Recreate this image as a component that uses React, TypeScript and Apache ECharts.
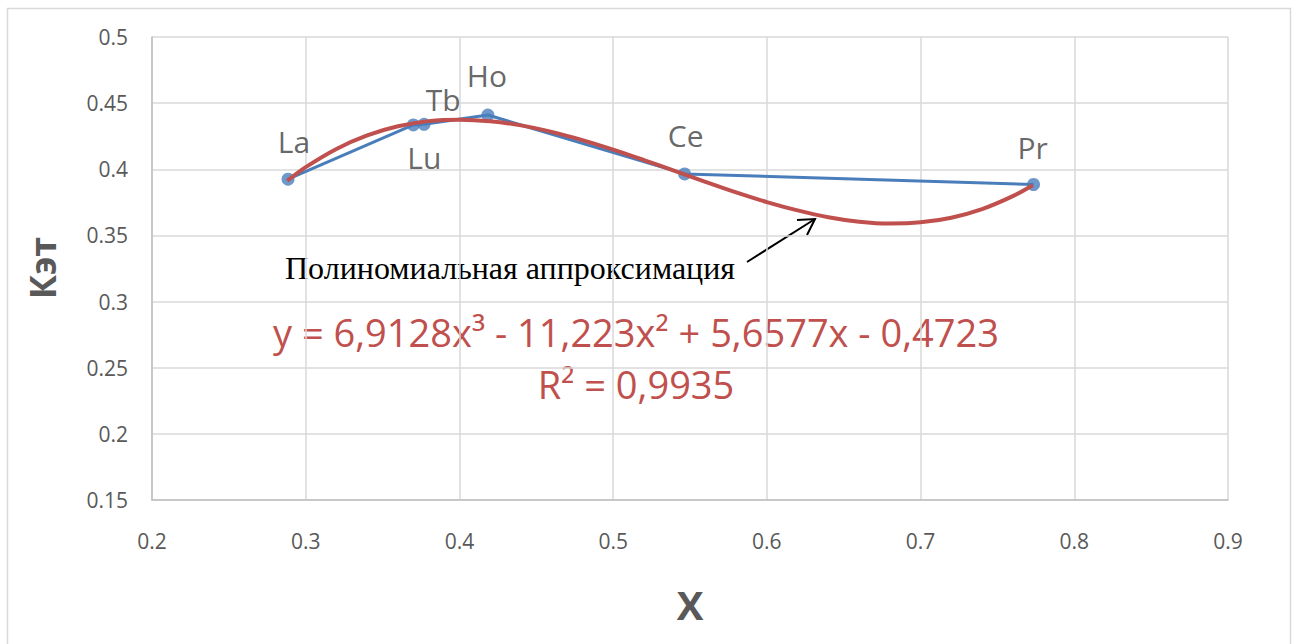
import React, { useEffect, useRef } from "react";
import * as echarts from "echarts";

const pointNames = ["La", "Lu", "Tb", "Ho", "Ce", "Pr"];
const pointX = [0.2885, 0.370, 0.377, 0.4185, 0.5465, 0.7735];
const pointY = [0.3925, 0.4335, 0.434, 0.441, 0.3965, 0.3885];

const trendX = [0.288, 0.30, 0.32, 0.34, 0.36, 0.38, 0.40, 0.42, 0.44, 0.46, 0.48, 0.50, 0.52, 0.54, 0.56, 0.58, 0.60, 0.62, 0.64, 0.66, 0.68, 0.70, 0.72, 0.74, 0.76, 0.773];
const trendY = [0.3913, 0.4016, 0.4154, 0.4256, 0.4325, 0.4364, 0.4375, 0.4363, 0.4332, 0.4283, 0.4221, 0.4149, 0.4070, 0.3988, 0.3905, 0.3825, 0.3752, 0.3689, 0.3638, 0.3604, 0.3590, 0.3599, 0.3634, 0.3699, 0.3797, 0.3880];

const xTicks = { min: 0.2, max: 0.9, interval: 0.1 };
const yTicks = { min: 0.15, max: 0.5, interval: 0.05 };

const equationText = "y = 6,9128x³ - 11,223x² + 5,6577x - 0,4723";
const r2Text = "R² = 0,9935";
const annotationText = "Полиномиальная аппроксимация";
const yAxisTitle = "Кэт";
const xAxisTitle = "X";

const labelPlacement: Record<string, { position: string; offset: [number, number] }> = {
  La: { position: "top", offset: [6, 0] },
  Lu: { position: "bottom", offset: [11, -5] },
  Tb: { position: "top", offset: [19, 13] },
  Ho: { position: "top", offset: [-1, -2] },
  Ce: { position: "top", offset: [1, -1] },
  Pr: { position: "top", offset: [-1, 1] },
};

export default function App() {
  const ref = useRef<HTMLDivElement>(null);
  useEffect(() => {
    if (!ref.current) return;
    const chart = echarts.init(ref.current, null, { renderer: "svg" });
    const font = "'Open Sans', 'Noto Sans', sans-serif";
    const pts = pointX.map((x, i) => ({
      value: [x, pointY[i]],
      name: pointNames[i],
      label: {
        show: true,
        formatter: pointNames[i],
        position: labelPlacement[pointNames[i]].position,
        offset: labelPlacement[pointNames[i]].offset,
        distance: 16,
        fontSize: 30,
        fontFamily: font,
        color: "#404040",
      },
    }));
    const option: any = {
      animation: false,
      backgroundColor: "#ffffff",
      grid: { left: 152, right: 64, top: 37, bottom: 144 },
      xAxis: {
        type: "value",
        min: xTicks.min,
        max: xTicks.max,
        interval: xTicks.interval,
        axisLine: { show: true, lineStyle: { color: "#bfbfbf", width: 1.5 } },
        axisTick: { show: false },
        splitLine: { show: true, lineStyle: { color: "#d9d9d9", width: 1.5 } },
        axisLabel: {
          margin: 30,
          fontSize: 21,
          fontFamily: font,
          color: "#595959",
          formatter: (v: number) => String(Math.round(v * 10) / 10),
        },
      },
      yAxis: {
        type: "value",
        min: yTicks.min,
        max: yTicks.max,
        interval: yTicks.interval,
        axisLine: { show: true, lineStyle: { color: "#bfbfbf", width: 1.5 } },
        axisTick: { show: false },
        splitLine: { show: true, lineStyle: { color: "#d9d9d9", width: 1.5 } },
        axisLabel: {
          margin: 24,
          fontSize: 21,
          fontFamily: font,
          color: "#595959",
          formatter: (v: number) => String(Math.round(v * 100) / 100),
        },
      },
      series: [
        {
          type: "line",
          data: pointX.map((x, i) => [x, pointY[i]]),
          symbol: "none",
          lineStyle: { color: "#4a7ebb", width: 3 },
          z: 2,
        },
        {
          type: "scatter",
          data: pts,
          symbol: "circle",
          symbolSize: 13,
          itemStyle: { color: "#4a7ebb" },
          z: 3,
        },
        {
          type: "line",
          data: trendX.map((x, i) => [x, trendY[i]]),
          smooth: 0.3,
          symbol: "none",
          lineStyle: { color: "#c0504d", width: 4 },
          z: 4,
        },
      ],
      graphic: [
        {
          type: "rect",
          shape: { x: 7.5, y: 8.5, width: 1283, height: 700 },
          style: { fill: "none", stroke: "#d9d9d9", lineWidth: 1.5 },
          silent: true,
        },
        {
          type: "text",
          x: 42,
          y: 268,
          rotation: Math.PI / 2,
          style: {
            text: yAxisTitle,
            font: `bold 36px ${font}`,
            fill: "#595959",
            align: "center",
            verticalAlign: "middle",
          },
        },
        {
          type: "text",
          x: 690,
          y: 604,
          style: {
            text: xAxisTitle,
            font: `bold 40px ${font}`,
            fill: "#595959",
            align: "center",
            verticalAlign: "middle",
          },
        },
        {
          type: "text",
          x: 636,
          y: 332,
          style: {
            text: equationText,
            font: `38px ${font}`,
            fill: "#c0504d",
            align: "center",
            verticalAlign: "middle",
          },
        },
        {
          type: "text",
          x: 636,
          y: 384,
          style: {
            text: r2Text,
            font: `38px ${font}`,
            fill: "#c0504d",
            align: "center",
            verticalAlign: "middle",
          },
        },
        {
          type: "text",
          x: 285,
          y: 268,
          style: {
            text: annotationText,
            font: `32px 'Liberation Serif', 'DejaVu Serif', serif`,
            fill: "#000000",
            align: "left",
            verticalAlign: "middle",
          },
        },
        {
          type: "line",
          shape: { x1: 747, y1: 262, x2: 815, y2: 219 },
          style: { stroke: "#000000", lineWidth: 2 },
        },
        {
          type: "polyline",
          shape: { points: [[797, 220], [815, 219], [807, 235]] },
          style: { stroke: "#000000", lineWidth: 2, fill: "none" },
        },
      ],
    };
    chart.setOption(option);
    return () => chart.dispose();
  }, []);
  return (
    <div
      ref={ref}
      style={{ position: "absolute", left: 0, top: 0, width: 1292, height: 644 }}
    />
  );
}
